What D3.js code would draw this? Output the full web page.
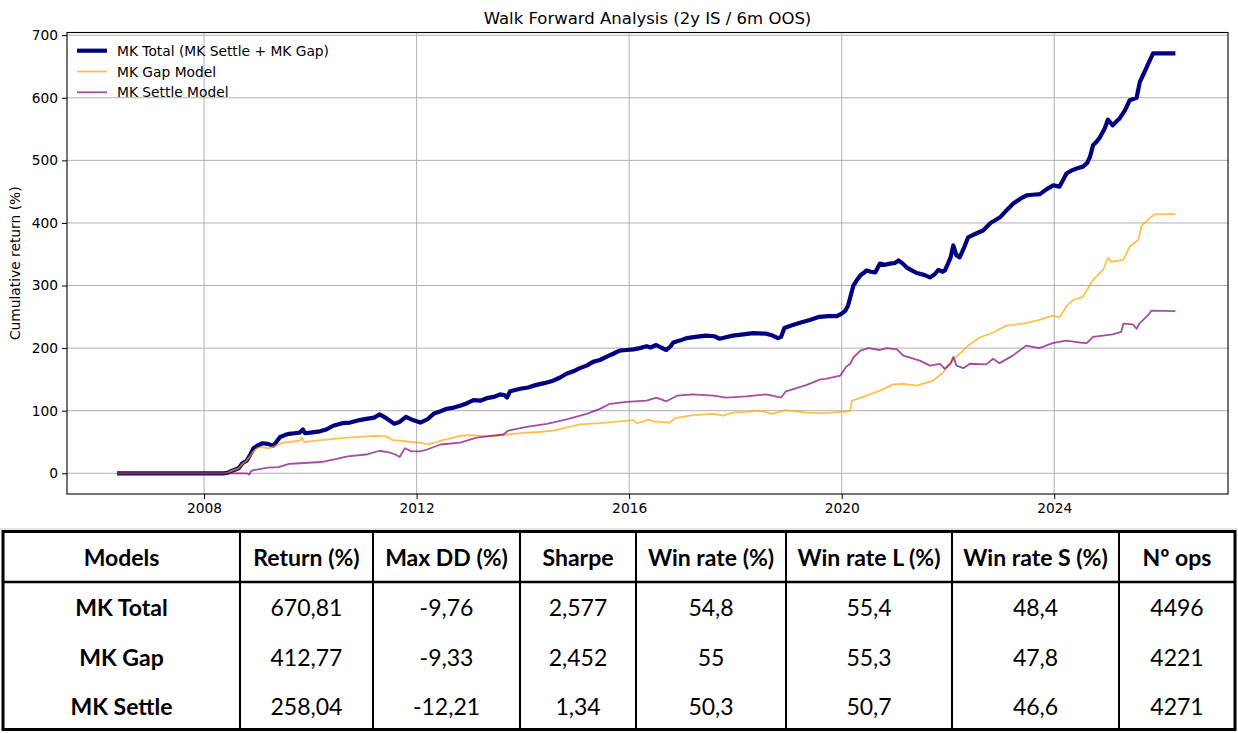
<!DOCTYPE html>
<html>
<head>
<meta charset="utf-8">
<script src="https://cdnjs.cloudflare.com/ajax/libs/d3/7.8.5/d3.min.js"></script>
<style>
body { margin: 0; background: #fff; }
svg { display: block; }
</style>
</head>
<body>
<svg id="chart" width="1238" height="733"></svg>
<script>

//////// data, [year, cumulative %]

var totalPts = [[2006.36,0],[2008.38,0],[2008.45,1],[2008.55,5],[2008.65,8],[2008.72,16],[2008.8,20],[2008.87,30],[2008.93,40],[2009.0,44],[2009.1,48],[2009.2,47],[2009.3,44],[2009.36,50],[2009.43,58],[2009.52,61],[2009.6,63],[2009.7,64],[2009.8,65],[2009.86,70],[2009.9,64],[2010.0,65],[2010.18,67],[2010.3,70],[2010.43,76],[2010.6,80],[2010.75,81],[2010.93,85],[2011.05,87],[2011.2,89],[2011.3,94],[2011.43,88],[2011.58,79],[2011.68,82],[2011.8,90],[2011.93,85],[2012.07,81],[2012.2,86],[2012.32,95],[2012.45,99],[2012.57,103],[2012.7,105],[2012.82,108],[2012.95,112],[2013.07,117],[2013.2,116],[2013.32,120],[2013.45,122],[2013.57,126],[2013.65,125],[2013.7,121],[2013.76,131],[2013.95,135],[2014.1,137],[2014.2,140],[2014.4,144],[2014.57,148],[2014.7,153],[2014.82,159],[2014.95,163],[2015.07,168],[2015.2,172],[2015.32,178],[2015.45,181],[2015.57,186],[2015.7,191],[2015.82,196],[2015.95,197],[2016.08,198],[2016.2,200],[2016.33,203],[2016.4,201],[2016.51,205],[2016.6,201],[2016.7,197],[2016.78,203],[2016.83,209],[2016.95,212],[2017.08,216],[2017.25,218],[2017.45,220],[2017.6,219],[2017.7,215],[2017.8,217],[2017.95,220],[2018.15,222],[2018.33,224],[2018.58,223],[2018.7,220],[2018.8,216],[2018.86,218],[2018.92,232],[2019.05,236],[2019.2,240],[2019.4,245],[2019.58,250],[2019.75,251],[2019.91,251],[2020.0,255],[2020.07,260],[2020.12,268],[2020.16,281],[2020.22,300],[2020.28,308],[2020.35,316],[2020.47,324],[2020.55,322],[2020.63,321],[2020.72,335],[2020.8,333],[2020.91,335],[2021.0,336],[2021.07,340],[2021.15,335],[2021.22,329],[2021.3,325],[2021.41,320],[2021.55,317],[2021.66,313],[2021.75,318],[2021.82,325],[2021.9,322],[2021.94,324],[2022.0,335],[2022.05,345],[2022.1,364],[2022.16,348],[2022.22,345],[2022.3,360],[2022.38,377],[2022.5,382],[2022.66,388],[2022.8,400],[2022.98,409],[2023.1,420],[2023.23,431],[2023.35,438],[2023.48,444],[2023.6,445],[2023.73,446],[2023.86,454],[2023.98,460],[2024.1,458],[2024.23,479],[2024.33,484],[2024.42,487],[2024.54,490],[2024.62,496],[2024.67,505],[2024.73,524],[2024.8,530],[2024.86,537],[2024.95,551],[2025.01,565],[2025.1,556],[2025.17,562],[2025.23,567],[2025.33,580],[2025.42,596],[2025.55,600],[2025.61,625],[2025.67,636],[2025.73,647],[2025.8,660],[2025.86,671],[2026.28,671]];

var gapPts = [[2006.36,0],[2008.38,0],[2008.45,1],[2008.55,5],[2008.65,8],[2008.72,15],[2008.8,20],[2008.87,28],[2008.93,35],[2009.0,40],[2009.07,42],[2009.2,40],[2009.3,42],[2009.4,46],[2009.5,49],[2009.6,50],[2009.8,52],[2009.84,57],[2009.88,50],[2010.0,51],[2010.2,53],[2010.43,55],[2010.7,57],[2011.05,59],[2011.25,60],[2011.43,59],[2011.55,53],[2011.7,52],[2011.9,50],[2012.05,49],[2012.2,46],[2012.3,48],[2012.45,52],[2012.6,55],[2012.82,60],[2013.07,61],[2013.32,59],[2013.5,60],[2013.7,62],[2014.07,65],[2014.3,66],[2014.57,68],[2014.82,73],[2015.07,78],[2015.45,80],[2015.82,83],[2016.08,85],[2016.14,80],[2016.25,82],[2016.36,86],[2016.45,83],[2016.76,81],[2016.86,88],[2017.2,93],[2017.58,95],[2017.77,92],[2017.95,97],[2018.2,98],[2018.45,100],[2018.7,95],[2018.95,101],[2019.33,97],[2019.6,96],[2019.8,97],[2020.11,99],[2020.16,100],[2020.19,116],[2020.3,119],[2020.47,124],[2020.72,132],[2020.97,142],[2021.16,143],[2021.41,140],[2021.6,145],[2021.72,148],[2021.91,161],[2022.04,177],[2022.22,191],[2022.38,204],[2022.6,217],[2022.85,225],[2023.1,236],[2023.3,238],[2023.47,240],[2023.72,245],[2023.97,252],[2024.1,249],[2024.23,267],[2024.36,277],[2024.54,282],[2024.73,309],[2024.92,325],[2025.01,344],[2025.08,338],[2025.3,341],[2025.42,362],[2025.58,373],[2025.64,395],[2025.8,408],[2025.89,414],[2026.28,414]];

var settlePts = [[2006.36,0],[2008.6,0],[2008.8,0],[2008.85,-2],[2008.88,3],[2008.93,5],[2009.2,9],[2009.4,10],[2009.6,15],[2009.8,16],[2010.2,18],[2010.43,22],[2010.7,27],[2011.05,30],[2011.3,36],[2011.5,33],[2011.6,30],[2011.68,26],[2011.78,40],[2011.9,35],[2012.07,35],[2012.2,38],[2012.45,46],[2012.82,49],[2013.13,57],[2013.32,59],[2013.63,62],[2013.72,68],[2014.07,74],[2014.45,79],[2014.82,86],[2015.2,95],[2015.45,103],[2015.64,111],[2015.95,114],[2016.33,116],[2016.51,121],[2016.7,115],[2016.9,124],[2017.2,126],[2017.58,124],[2017.83,121],[2018.2,123],[2018.58,126],[2018.86,121],[2018.95,131],[2019.33,141],[2019.6,150],[2019.7,151],[2019.97,156],[2020.08,170],[2020.16,175],[2020.22,185],[2020.35,196],[2020.5,200],[2020.72,197],[2020.85,200],[2021.04,198],[2021.16,188],[2021.47,180],[2021.66,172],[2021.85,175],[2021.94,167],[2022.05,175],[2022.1,186],[2022.16,172],[2022.29,168],[2022.41,175],[2022.72,174],[2022.85,183],[2022.97,176],[2023.22,188],[2023.47,204],[2023.72,200],[2023.97,208],[2024.22,212],[2024.47,209],[2024.61,208],[2024.73,218],[2025.1,222],[2025.26,226],[2025.3,239],[2025.48,238],[2025.55,231],[2025.6,239],[2025.77,253],[2025.83,260],[2026.28,259]];

var seriesNames = ["MK Total (MK Settle + MK Gap)", "MK Gap Model", "MK Settle Model"];
var xTicks = [2008, 2012, 2016, 2020, 2024];
var yTicks = [0, 100, 200, 300, 400, 500, 600, 700];

// table
var tableHeader = ["Models", "Return (%)", "Max DD (%)", "Sharpe", "Win rate (%)", "Win rate L (%)", "Win rate S (%)", "Nº ops"];
var modelNames = ["MK Total", "MK Gap", "MK Settle"];
var returnCol = ["670,81", "412,77", "258,04"];
var maxDDCol = ["-9,76", "-9,33", "-12,21"];
var sharpeCol = ["2,577", "2,452", "1,34"];
var winCol = ["54,8", "55", "50,3"];
var winLCol = ["55,4", "55,3", "50,7"];
var winSCol = ["48,4", "47,8", "46,6"];
var opsCol = ["4496", "4221", "4271"];


var svg = d3.select("#chart");

var pLeft = 67, pRight = 1228, pTop = 32.5, pBottom = 494;

var x = d3.scaleLinear().domain([2005.42, 2027.27]).range([pLeft, pRight]);
var y = d3.scaleLinear().domain([-33.1, 704.3]).range([pBottom, pTop]);

var mplFont = "DejaVu Sans, sans-serif";
var baseSize = "13.8px";

// grid
var grid = svg.append("g");
grid.selectAll(".vg").data(xTicks).enter().append("line")
    .attr("x1", function(d) { return x(d); })
    .attr("x2", function(d) { return x(d); })
    .attr("y1", pTop).attr("y2", pBottom)
    .attr("stroke", "#b0b0b0").attr("stroke-width", 1);
grid.selectAll(".hg").data(yTicks).enter().append("line")
    .attr("y1", function(d) { return y(d); })
    .attr("y2", function(d) { return y(d); })
    .attr("x1", pLeft).attr("x2", pRight)
    .attr("stroke", "#b0b0b0").attr("stroke-width", 1);

// lines
var line = d3.line()
    .x(function(d) { return x(d[0]); })
    .y(function(d) { return y(d[1]); });

var styles = [
    { color: "#000080", width: 4.2, opacity: 1 },
    { color: "#ffa500", width: 1.8, opacity: 0.7 },
    { color: "#800080", width: 1.8, opacity: 0.7 }
];
var allSeries = [totalPts, gapPts, settlePts];

svg.selectAll(".series")
    .data(allSeries)
    .enter()
    .append("path")
    .attr("class", "series")
    .attr("d", line)
    .attr("fill", "none")
    .attr("stroke", function(d, i) { return styles[i].color; })
    .attr("stroke-width", function(d, i) { return styles[i].width; })
    .attr("stroke-opacity", function(d, i) { return styles[i].opacity; })
    .attr("stroke-linejoin", "round");

// axes
var xAxis = d3.axisBottom(x).tickValues(xTicks).tickFormat(d3.format("d")).tickSize(5).tickPadding(4);
var yAxis = d3.axisLeft(y).tickValues(yTicks).tickSize(5).tickPadding(4);

var gx = svg.append("g").attr("transform", "translate(0," + pBottom + ")").call(xAxis);
var gy = svg.append("g").attr("transform", "translate(" + pLeft + ",0)").call(yAxis);
[gx, gy].forEach(function(g) {
    g.select(".domain").remove();
    g.selectAll("line").attr("stroke", "#000").attr("stroke-width", 1);
    g.selectAll("text").attr("fill", "#000").style("font-family", mplFont).style("font-size", baseSize);
});

svg.append("rect")
    .attr("x", pLeft).attr("y", pTop)
    .attr("width", pRight - pLeft).attr("height", pBottom - pTop)
    .attr("fill", "none").attr("stroke", "#000").attr("stroke-width", 1.1);

// title, label
svg.append("text")
    .attr("x", (pLeft + pRight) / 2).attr("y", 24)
    .attr("text-anchor", "middle")
    .style("font-family", mplFont).style("font-size", "16.5px")
    .text("Walk Forward Analysis (2y IS / 6m OOS)");

svg.append("text")
    .attr("transform", "translate(20," + ((pTop + pBottom) / 2) + ") rotate(-90)")
    .attr("text-anchor", "middle")
    .style("font-family", mplFont).style("font-size", baseSize)
    .text("Cumulative return (%)");

// legend (no frame)
var leg = svg.selectAll(".leg").data(seriesNames).enter().append("g")
    .attr("transform", function(d, i) { return "translate(77," + (50.7 + i * 20.8) + ")"; });
leg.append("line")
    .attr("x1", 0).attr("x2", 30)
    .attr("stroke", function(d, i) { return styles[i].color; })
    .attr("stroke-width", function(d, i) { return styles[i].width; })
    .attr("stroke-opacity", function(d, i) { return styles[i].opacity; });
leg.append("text")
    .attr("x", 40).attr("y", 5)
    .style("font-family", mplFont).style("font-size", baseSize)
    .text(function(d) { return d; });


//////// table

var colEdges = [3, 240, 373, 520, 636, 786, 952, 1119, 1235];
var tTop = 531.5, tHead = 582, tBottom = 729.5;
var rowCenters = [608, 657.5, 707];
var tblFont = "Lato, Carlito, Calibri, sans-serif";

svg.append("line")
    .attr("x1", 0).attr("x2", 1238).attr("y1", 529).attr("y2", 529)
    .attr("stroke", "#c8c8c8").attr("stroke-width", 1);

var tbl = svg.append("g");

tbl.selectAll(".hdr").data(tableHeader).enter().append("text")
    .attr("x", function(d, i) { return (colEdges[i] + colEdges[i + 1]) / 2; })
    .attr("y", 566)
    .attr("text-anchor", "middle")
    .style("font-family", tblFont).style("font-size", "23px").style("font-weight", "bold")
    .text(function(d) { return d; });

var cols = [modelNames, returnCol, maxDDCol, sharpeCol, winCol, winLCol, winSCol, opsCol];
cols.forEach(function(col, ci) {
    tbl.selectAll(".c" + ci).data(col).enter().append("text")
        .attr("x", (colEdges[ci] + colEdges[ci + 1]) / 2)
        .attr("y", function(d, ri) { return rowCenters[ri] + 8; })
        .attr("text-anchor", "middle")
        .style("font-family", tblFont).style("font-size", "23px")
        .style("font-weight", ci == 0 ? "bold" : "normal")
        .text(function(d) { return d; });
});

// inner column lines
tbl.selectAll(".vl").data(colEdges.slice(1, -1)).enter().append("line")
    .attr("x1", function(d) { return d; }).attr("x2", function(d) { return d; })
    .attr("y1", tTop).attr("y2", tBottom)
    .attr("stroke", "#000").attr("stroke-width", 2);

tbl.append("line")
    .attr("x1", colEdges[0]).attr("x2", colEdges[colEdges.length - 1])
    .attr("y1", tHead).attr("y2", tHead)
    .attr("stroke", "#000").attr("stroke-width", 2.6);

tbl.append("rect")
    .attr("x", colEdges[0]).attr("y", tTop)
    .attr("width", colEdges[colEdges.length - 1] - colEdges[0])
    .attr("height", tBottom - tTop)
    .attr("fill", "none").attr("stroke", "#000").attr("stroke-width", 3);

</script>
</body>
</html>
